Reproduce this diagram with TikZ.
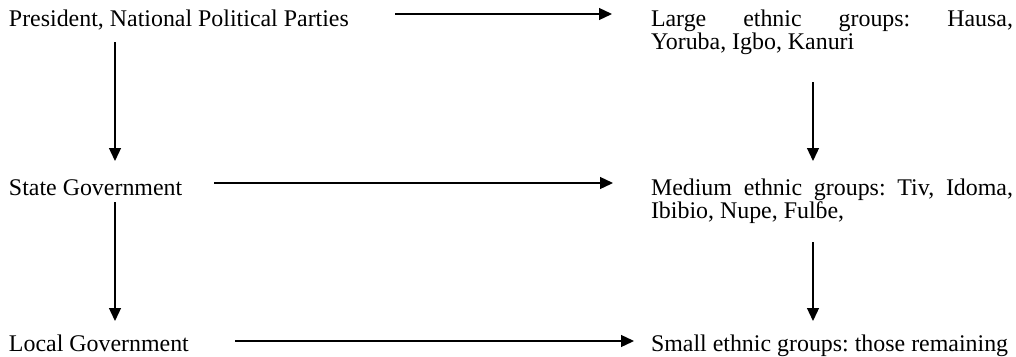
\documentclass[tikz,border=0pt]{standalone}
\usepackage{fontspec}
\setmainfont{Liberation Serif}
\usetikzlibrary{arrows.meta}
\begin{document}
\begin{tikzpicture}[x=1pt,y=-1pt,
  lbl/.style={inner sep=0pt, outer sep=0pt, anchor=base west, font=\fontsize{23.9}{23}\selectfont},
  blk/.style={lbl, text width=362pt, align=justify,
    execute at begin node={\frenchspacing\hyphenpenalty=10000 \exhyphenpenalty=10000 \tolerance=10000 \pretolerance=-1}},
  arr/.style={line width=1.3pt, -{Triangle[length=13pt,width=12pt]}}]
\useasboundingbox (0,0) rectangle (1016,356);
% left column
\node[lbl] (pres)  at (9,26)  {President, National Political Parties};
\node[lbl] (state) at (9,195) {State Government};
\node[lbl] (local) at (9,351) {Local Government};
% right column
\node[blk] (large)  at (651,26)  {Large ethnic groups: Hausa,\linebreak Yoruba, Igbo, Kanuri};
\node[blk] (medium) at (651,195) {Medium ethnic groups: Tiv, Idoma, Ibibio, Nupe, Fulɓe,};
\node[blk] (small)  at (651,351) {Small ethnic groups: those remaining};
% connector end points
\coordinate (pres-s)  at (115,42);
\coordinate (state-n) at (115,161);
\coordinate (state-s) at (115,202);
\coordinate (local-n) at (115,321);
\coordinate (large-s)  at (813,82);
\coordinate (medium-n) at (813,161);
\coordinate (medium-s) at (813,242);
\coordinate (small-n)  at (813,321);
\coordinate (pres-e)  at (395,14);
\coordinate (large-w) at (612,14);
\coordinate (state-e) at (214,183);
\coordinate (medium-w) at (613,183);
\coordinate (local-e) at (235,341);
\coordinate (small-w) at (634,341);
% connectors
\draw[arr] (pres-s) -- (state-n);
\draw[arr] (state-s) -- (local-n);
\draw[arr] (large-s) -- (medium-n);
\draw[arr] (medium-s) -- (small-n);
\draw[arr] (pres-e) -- (large-w);
\draw[arr] (state-e) -- (medium-w);
\draw[arr] (local-e) -- (small-w);
\end{tikzpicture}
\end{document}
